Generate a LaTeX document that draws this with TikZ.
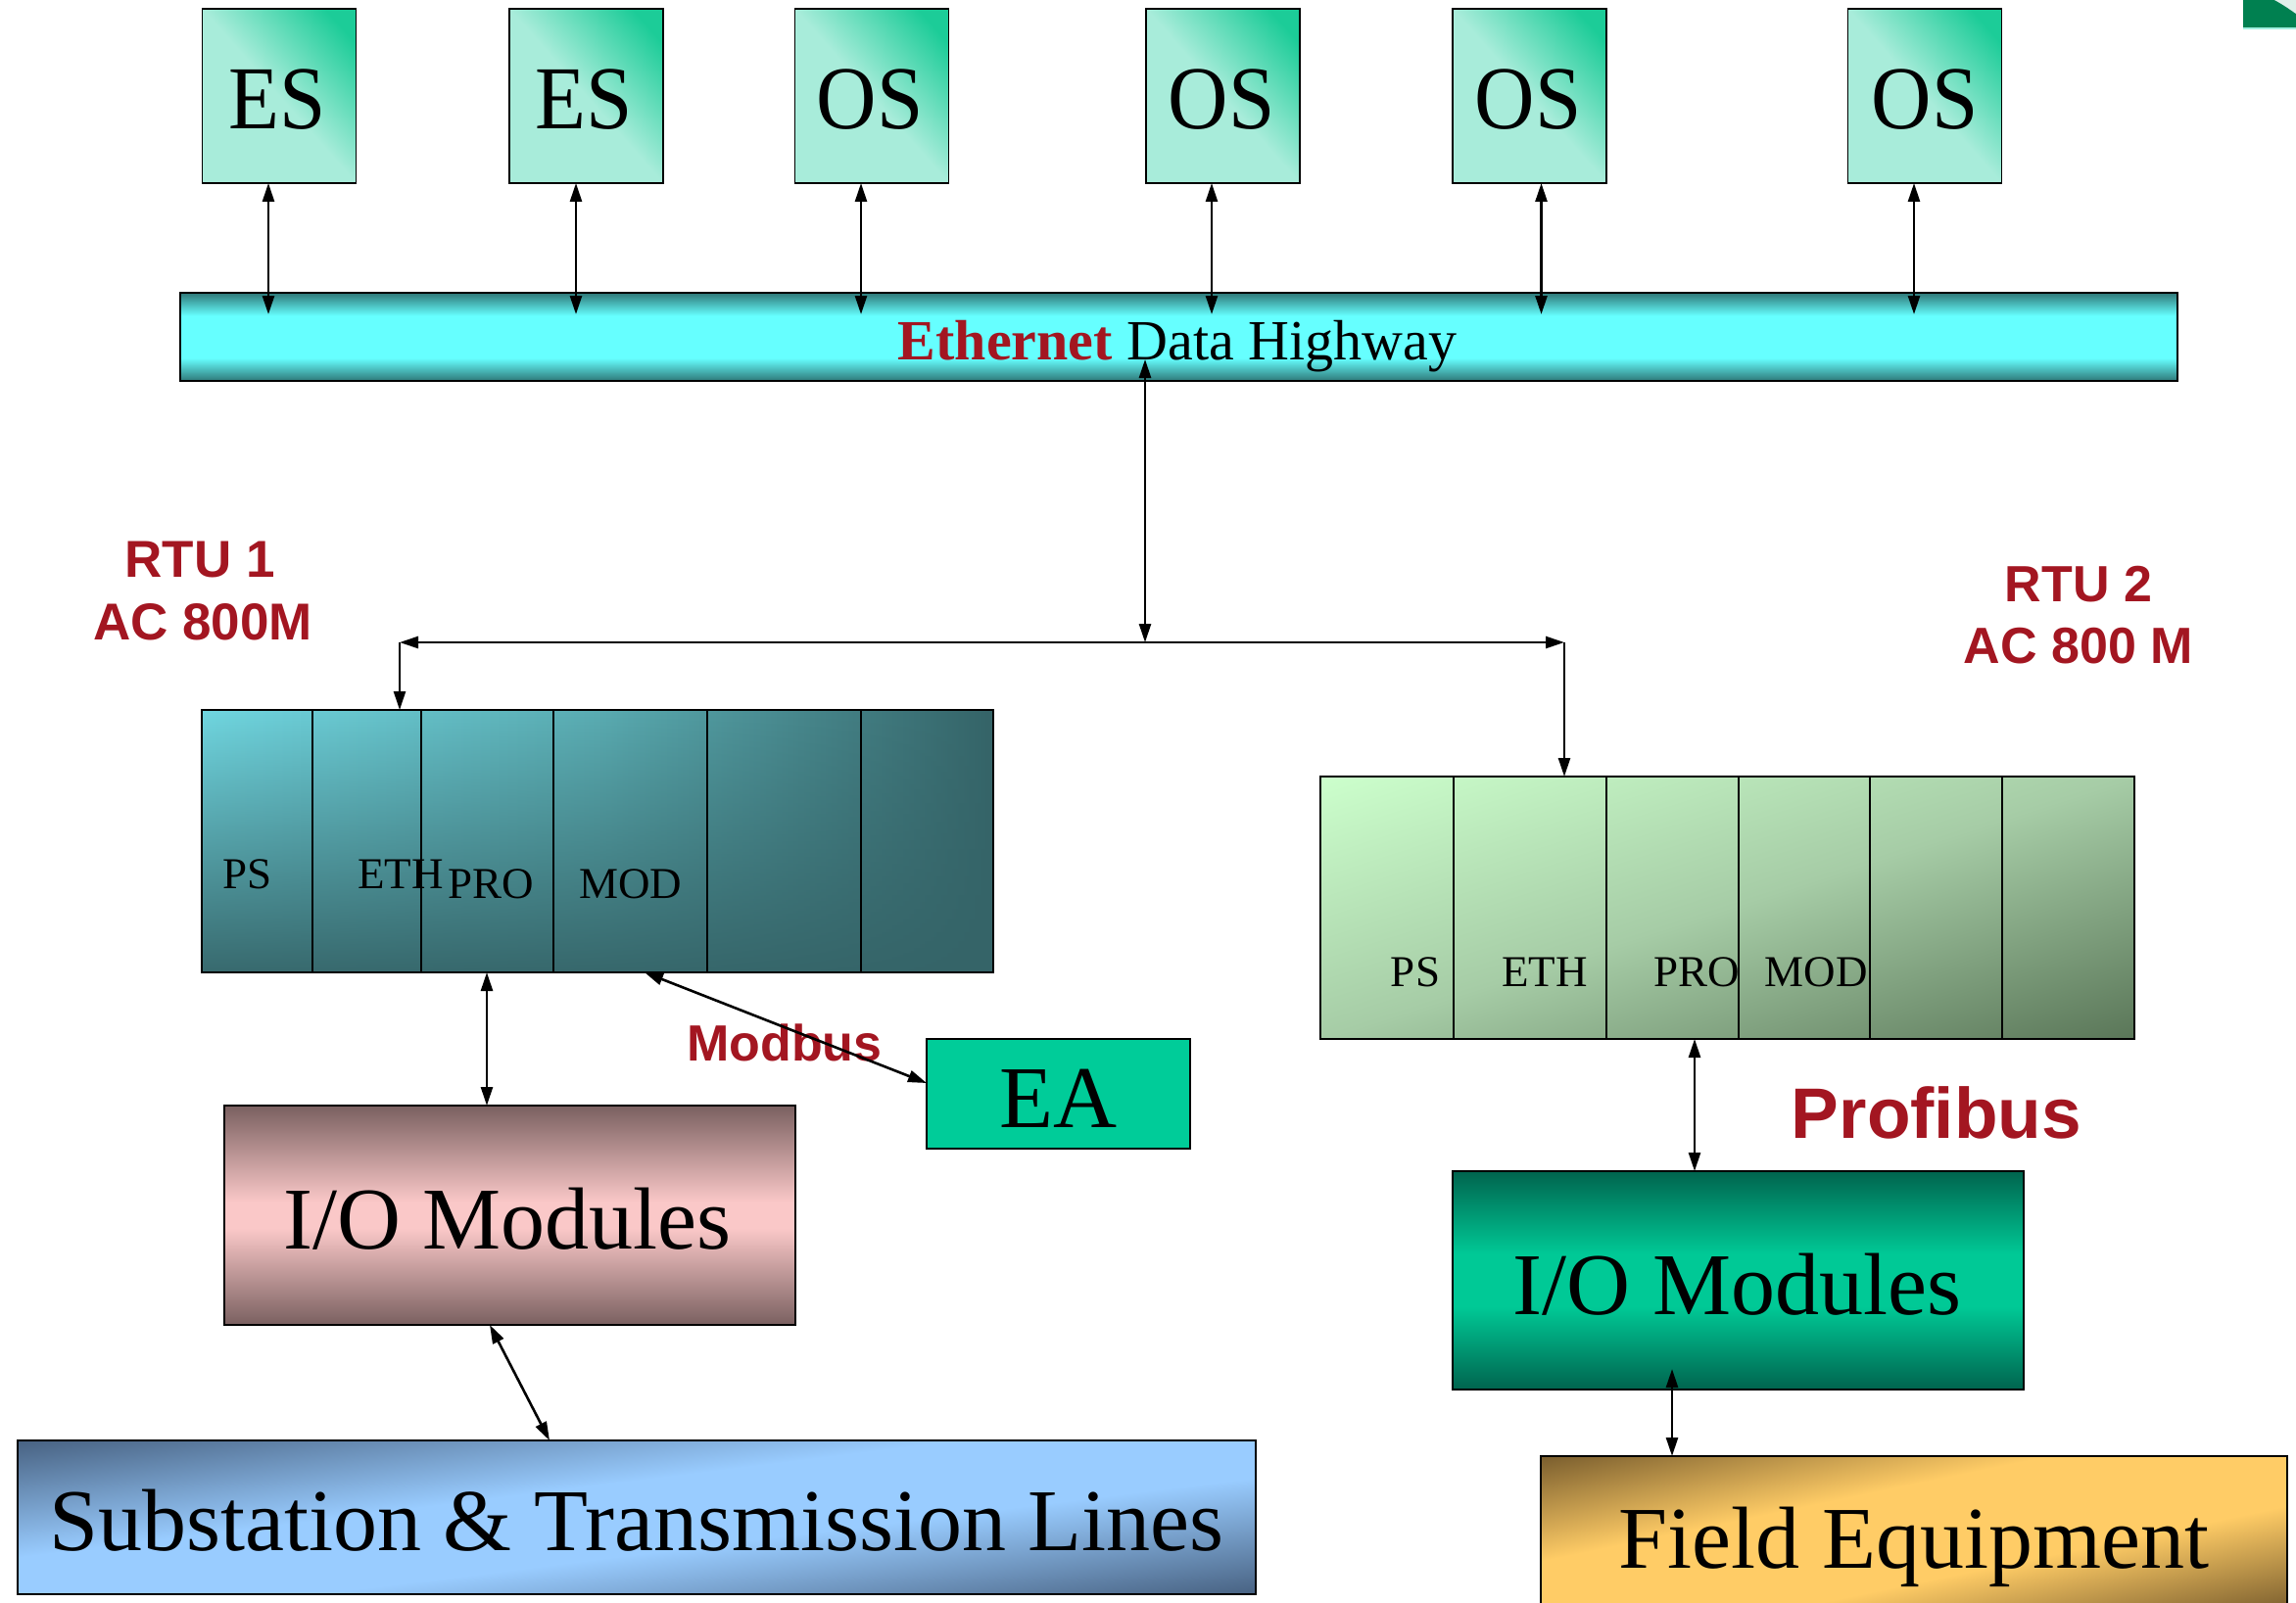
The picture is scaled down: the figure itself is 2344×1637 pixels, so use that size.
\documentclass[tikz,border=0pt]{standalone}
\usepackage{fontspec}
\setmainfont{Liberation Serif}
\setsansfont{Liberation Sans}
\usepackage{graphicx}
\usetikzlibrary{arrows.meta,calc,fadings}

\definecolor{labelred}{RGB}{163,22,33}
\definecolor{pclight}{RGB}{168,236,218}
\definecolor{pcgreen}{RGB}{28,204,152}
\definecolor{busdark}{RGB}{46,120,120}
\definecolor{buscyan}{RGB}{102,255,255}
\definecolor{rackAlight}{RGB}{112,214,224}
\definecolor{rackAmid}{RGB}{90,172,178}
\definecolor{rackAdark}{RGB}{53,100,104}
\definecolor{rackBlight}{RGB}{204,255,204}
\definecolor{rackBmid}{RGB}{166,204,166}
\definecolor{rackBdark}{RGB}{90,118,88}
\definecolor{eagreen}{RGB}{0,204,153}
\definecolor{ioLdark}{RGB}{122,96,96}
\definecolor{ioLpink}{RGB}{250,200,200}
\definecolor{ioRdark}{RGB}{0,100,78}
\definecolor{ioRgreen}{RGB}{0,201,150}
\definecolor{subdark}{RGB}{72,98,130}
\definecolor{sublight}{RGB}{153,204,255}
\definecolor{fielddark}{RGB}{122,94,46}
\definecolor{fieldgold}{RGB}{255,204,102}
\definecolor{logogreen}{RGB}{0,128,80}
\definecolor{logoline}{RGB}{160,240,224}

% vertical shadings; the part between 25bp and 75bp spans the filled area
\pgfdeclareverticalshading{topshade}{100bp}{color(0bp)=(pclight); color(50bp)=(pclight); color(70bp)=(pcgreen); color(100bp)=(pcgreen)}
\pgfdeclareverticalshading{busshade}{100bp}{color(0bp)=(busdark); color(25bp)=(busdark); color(38bp)=(buscyan); color(62bp)=(buscyan); color(75bp)=(busdark); color(100bp)=(busdark)}
\pgfdeclareverticalshading{ioLshade}{100bp}{color(0bp)=(ioLdark); color(25bp)=(ioLdark); color(47bp)=(ioLpink); color(53bp)=(ioLpink); color(75bp)=(ioLdark); color(100bp)=(ioLdark)}
\pgfdeclareverticalshading{ioRshade}{100bp}{color(0bp)=(ioRdark); color(25bp)=(ioRdark); color(44bp)=(ioRgreen); color(56bp)=(ioRgreen); color(75bp)=(ioRdark); color(100bp)=(ioRdark)}
\pgfdeclareverticalshading{subshade}{100bp}{color(0bp)=(subdark); color(25bp)=(subdark); color(44bp)=(sublight); color(56bp)=(sublight); color(75bp)=(subdark); color(100bp)=(subdark)}
\pgfdeclareverticalshading{fieldshade}{100bp}{color(0bp)=(fielddark); color(25bp)=(fielddark); color(42bp)=(fieldgold); color(58bp)=(fieldgold); color(75bp)=(fielddark); color(100bp)=(fielddark)}
\pgfdeclareverticalshading{rackBshade}{100bp}{color(0bp)=(rackBdark); color(25bp)=(rackBdark); color(50bp)=(rackBmid); color(75bp)=(rackBlight); color(100bp)=(rackBlight)}

% controller rack darkens towards the bottom
\tikzfading[name=rackfade, top color=transparent!100, middle color=transparent!85, bottom color=transparent!5]

\newcommand{\vstretch}[1]{\scalebox{1}[1.08]{#1}}
% corner-to-corner shading of a box: #1 node, #2 shading, #3 width, #4 height, #5 rotation (45: top-left, -45: top-right)
\newcommand{\cornershade}[5]{%
  \begin{scope}
    \clip (#1.north west) rectangle (#1.south east);
    \shade[shading=#2, transform canvas={shift={(#1.center)}, xscale=#3/2.8284, yscale=#4/2.8284, rotate=#5}] (-2,-2) rectangle (2,2);
  \end{scope}
  \draw[line width=1.5pt] (#1.north west) rectangle (#1.south east);}

\begin{document}
\begin{tikzpicture}[x=1pt,y=-1pt,
  box/.style={draw=black, line width=1.5pt, inner sep=0pt, outer sep=0pt},
  topbox/.style={box, minimum width=157pt, minimum height=178pt},
  divider/.style={draw=black, line width=1.3pt},
  txt/.style={font=\fontsize{#1pt}{#1pt}\selectfont, anchor=base, inner sep=0pt},
  redlabel/.style={font=\fontsize{#1pt}{#1pt}\selectfont\sffamily\bfseries, text=labelred, anchor=base, inner sep=0pt},
  tip/.tip={Triangle[length=19pt,width=12pt]},
  conn/.style={line width=2.6pt, -tip},
  biconn/.style={line width=2.6pt, tip-tip},
]
\useasboundingbox (0,0) rectangle (2344,1637);
\clip (0,0) rectangle (2344,1637);

% corner emblem
\fill[logogreen] (2290,0) rectangle (2344,28);
\fill[white!88!logogreen] (2322,0) .. controls (2333,6) and (2338,10) .. (2344,14) -- (2344,0) -- cycle;
\draw[logoline, line width=2pt] (2290,29) -- (2344,29);

% engineering and operator stations
\node[topbox] (es1) at (285,98) {};
\node[topbox] (es2) at (598.5,98) {};
\node[topbox] (os1) at (890,98) {};
\node[topbox] (os2) at (1248.5,98) {};
\node[topbox] (os3) at (1561.5,98) {};
\node[topbox] (os4) at (1965,98) {};
\foreach \b in {es1,es2,os1,os2,os3,os4} {\cornershade{\b}{topshade}{157}{178}{-45}}
\node[txt=85] (es1t) at (283,132) {\vstretch{ES}};
\node[txt=85] (es2t) at (596,132) {\vstretch{ES}};
\node[txt=85] (os1t) at (888,132) {\vstretch{OS}};
\node[txt=85] (os2t) at (1247,132) {\vstretch{OS}};
\node[txt=85] (os3t) at (1560,132) {\vstretch{OS}};
\node[txt=85] (os4t) at (1965,132) {\vstretch{OS}};

% data highway
\node[box, shade, shading=busshade, minimum width=2039pt, minimum height=90pt] (bus) at (1203.5,344) {};
\node[txt=58] (bust) at (1202,367) {\textcolor{labelred}{\bfseries Ethernet} Data Highway};

% RTU 1 rack
\node[box, left color=rackAlight, right color=rackAdark, middle color=rackAmid, minimum width=808pt, minimum height=268pt] (rack1) at (610,859) {};
\fill[rackAdark, path fading=rackfade] (rack1.north west) rectangle (rack1.south east);
\draw[line width=1.5pt] (rack1.north west) rectangle (rack1.south east);
\foreach \x in {319,430,565,722,879} \draw[divider] (\x,725) -- (\x,993);
\node[txt=45] (r1ps) at (253,907) {PS};
\node[txt=45] (r1eth) at (409,907) {ETH};
\node[txt=45] (r1pro) at (501,917) {PRO};
\node[txt=45] (r1mod) at (644,917) {MOD};

% RTU 2 rack
\node[box, minimum width=831pt, minimum height=268pt] (rack2) at (1763.5,927) {};
\cornershade{rack2}{rackBshade}{831}{268}{45}
\foreach \x in {1484,1640,1775,1909,2044} \draw[divider] (\x,793) -- (\x,1061);
\node[txt=45] (r2ps) at (1445,1007) {PS};
\node[txt=45] (r2eth) at (1577,1007) {ETH};
\node[txt=45] (r2pro) at (1732,1007) {PRO};
\node[txt=45] (r2mod) at (1854,1007) {MOD};

% RTU captions
\node[redlabel=53] (rtu1a) at (204,589) {RTU 1};
\node[redlabel=53] (rtu1b) at (207,653) {AC 800M};
\node[redlabel=52] (rtu2a) at (2122,614) {RTU 2};
\node[redlabel=52] (rtu2b) at (2122,677) {AC 800 M};

% field level
\node[box, fill=eagreen, minimum width=269pt, minimum height=112pt] (ea) at (1080.5,1117) {};
\node[txt=90] (eat) at (1080,1151) {EA};
\node[box, shade, shading=ioLshade, minimum width=583pt, minimum height=224pt] (io1) at (520.5,1241) {};
\node[txt=90] (io1t) at (518,1275) {I/O Modules};
\node[box, shade, shading=ioRshade, minimum width=583pt, minimum height=223pt] (io2) at (1774.5,1307.5) {};
\node[txt=90] (io2t) at (1773.5,1342) {I/O Modules};
\node[box, minimum width=1264pt, minimum height=157pt] (sub) at (650,1549.5) {};
\cornershade{sub}{subshade}{1264}{157}{45}
\node[txt=90] (subt) at (650,1583) {Substation \& Transmission Lines};
\node[box, minimum width=762pt, minimum height=158pt] (field) at (1954,1566) {};
\cornershade{field}{fieldshade}{762}{158}{45}
\draw[line width=2.5pt] (field.north west) -- (field.north east);
\node[txt=90] (fieldt) at (1954,1601) {Field Equipment};

\node[redlabel=52] (modbus) at (801,1083) {Modbus};
\node[redlabel=73] (profibus) at (1977,1162) {Profibus};

% links between stations and highway
\foreach \b/\dx in {es1/-11,es2/-10.5,os1/-11,os2/-11.5,os3/12,os4/-11}
  \draw[biconn] ($(\b.south)+(\dx,0)$) -- ($(\b.south |- bus.north)+(\dx,22)$);

% distribution to the racks
\coordinate (jl) at (408,656);
\coordinate (jm) at (1169,656);
\coordinate (jr) at (1597,656);
\draw[biconn] (jm) -- ($(jm |- bus.south)+(0,-22)$);
\draw[biconn] (jl) -- (jr);
\draw[conn] (jl) -- (jl |- rack1.north);
\draw[conn] (jr) -- (jr |- rack2.north);

% rack to field links
\draw[biconn] ($(rack1.south west)+(291,0)$) -- ($(io1.north west)+(268,0)$);
\draw[biconn] ($(rack1.south west)+(452,0)$) -- ($(ea.west)+(0,-11)$);
\draw[biconn] ($(io1.south west)+(271,0)$) -- ($(sub.north west)+(543,0)$);
\draw[biconn] ($(rack2.south west)+(382,0)$) -- ($(io2.north west)+(247,0)$);
\draw[biconn] ($(io2.south west)+(224,-21)$) -- ($(field.north west)+(134,0)$);
\end{tikzpicture}
\end{document}
